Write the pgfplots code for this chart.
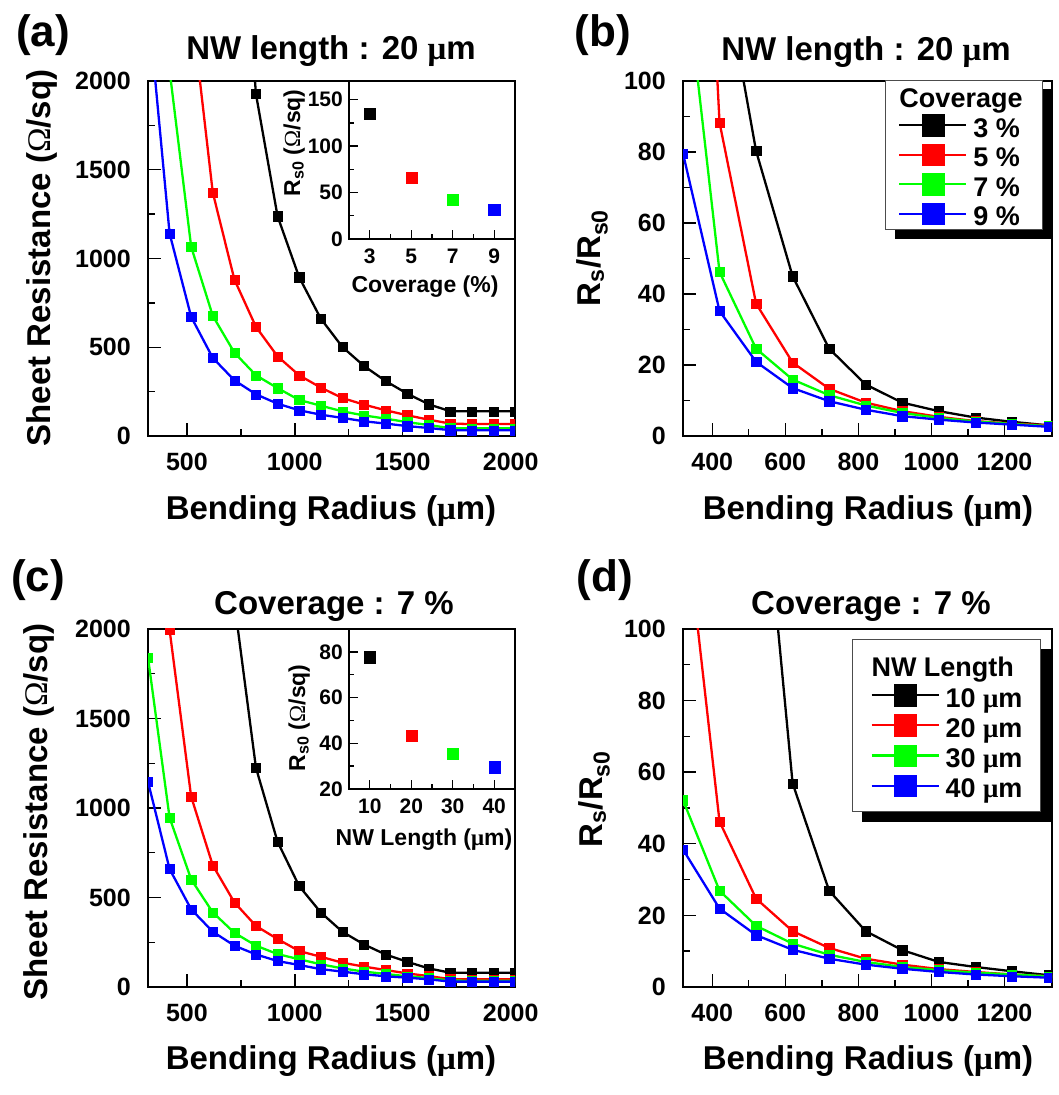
\documentclass[border=0pt]{standalone}
\usepackage{pgfplots}
\pgfplotsset{compat=1.18}
\pgfdeclarelayer{background}
\pgfsetlayers{background,main}
\usepackage{fontspec}
\setmainfont{Liberation Sans}
\newfontfamily\omgfont{Liberation Serif}
\newcommand{\Om}{{\omgfont\mdseries Ω}}
\newcommand{\mum}{{\omgfont μ}m}
\newcommand{\tickfont}{\fontsize{25}{30}\selectfont\bfseries}
\newcommand{\insfont}{\fontsize{21}{25}\selectfont\bfseries}
\newcommand{\bigfont}{\fontsize{33}{40}\selectfont\bfseries}
\newcommand{\panelfont}{\fontsize{44}{52}\selectfont\bfseries}
\newcommand{\inslabfont}{\fontsize{23}{28}\selectfont\bfseries}
\newcommand{\legfont}{\fontsize{27}{32}\selectfont\bfseries}
\newcommand{\lst}{\rule[-6pt]{0pt}{31.4pt}}

\pgfplotsset{
  mainax/.style={
    scale only axis, anchor=south west,
    axis line style={line width=1.4pt},
    tick align=inside, xtick pos=left, ytick pos=left,
    major tick length=13pt, minor tick length=6.5pt,
    every tick/.style={black, line width=1.4pt},
    clip marker paths=true,
    tick label style={font=\tickfont},
    xticklabel style={inner sep=0pt, yshift=-17pt},
    yticklabel style={inner sep=0pt, xshift=-17pt},
    /pgf/number format/assume math mode=true,
    /pgf/number format/1000 sep={},
    minor x tick num=1, minor y tick num=1,
  },
  insetax/.style={
    scale only axis, anchor=south west,
    axis background/.style={fill=white},
    axis line style={line width=1.4pt},
    tick align=inside, xtick pos=left, ytick pos=left,
    major tick length=9pt, minor tick length=5pt,
    every tick/.style={black, line width=1.4pt},
    tick label style={font=\insfont},
    xticklabel style={inner sep=0pt, yshift=-10pt},
    yticklabel style={inner sep=0pt, xshift=-6pt},
    /pgf/number format/assume math mode=true,
    minor x tick num=1, minor y tick num=1,
  },
  sk/.style={black, line width=2.3pt, mark=square*, mark size=4.6pt, mark options={line width=0.3pt}},
  sr/.style={red, line width=2.3pt, mark=square*, mark size=4.6pt, mark options={line width=0.3pt}},
  sg/.style={green, line width=2.3pt, mark=square*, mark size=4.6pt, mark options={line width=0.3pt}},
  sb/.style={blue, line width=2.3pt, mark=square*, mark size=4.6pt, mark options={line width=0.3pt}},
  ik/.style={black, only marks, mark=square*, mark size=5.6pt, mark options={line width=0.3pt}},
  ir/.style={red, only marks, mark=square*, mark size=5.6pt, mark options={line width=0.3pt}},
  ig/.style={green, only marks, mark=square*, mark size=5.6pt, mark options={line width=0.3pt}},
  ib/.style={blue, only marks, mark=square*, mark size=5.6pt, mark options={line width=0.3pt}},
  legax/.style={
    legend image code/.code={%
      \draw[##1, mark=none, fill=none, line width=2.2pt] (0pt,0pt) -- (67pt,0pt);
      \draw[##1, only marks, mark size=10.8pt] plot coordinates {(33.5pt,0pt)};
      \path[draw=none, fill=none] (0pt,-13pt) rectangle (74pt,13pt);},
  },
}

\begin{document}
\begin{tikzpicture}[x=1pt,y=1pt]
\useasboundingbox (0pt,0pt) rectangle (1058pt,1095pt);

% ---------------- (a) ----------------
\begin{axis}[mainax, at={(148pt,659pt)}, width=367pt, height=355pt,
  xmin=320, xmax=2020, ymin=0, ymax=2000,
  xtick={500,1000,1500,2000}, ytick={0,500,1000,1500,2000}]
\addplot[sk] coordinates {(720,3600)(820,1927)(920,1239)(1020,895)(1120,662)(1220,502)(1320,395)(1420,310)(1520,239)(1620,179)(1720,139)(1820,139)(1920,139)(2020,139)};
\addplot[sr] coordinates {(520,2430)(620,1372)(720,882)(820,615)(920,449)(1020,342)(1120,273)(1220,214)(1320,177)(1420,145)(1520,117)(1620,92)(1720,70)(1820,67)(1920,67)(2020,67)};
\addplot[sg] coordinates {(320,3500)(420,2060)(520,1066)(620,677)(720,470)(820,342)(920,270)(1020,203)(1120,171)(1220,139)(1320,116)(1420,98)(1520,78)(1620,62)(1720,44)(1820,43)(1920,43)(2020,43)};
\addplot[sb] coordinates {(320,2440)(420,1141)(520,671)(620,440)(720,314)(820,235)(920,182)(1020,145)(1120,120)(1220,102)(1320,83)(1420,70)(1520,56)(1620,45)(1720,33)(1820,32)(1920,32)(2020,32)};
\end{axis}
\begin{axis}[insetax, at={(349pt,856pt)}, width=166pt, height=158pt,
  xmin=2, xmax=10, ymin=0, ymax=170,
  xtick={3,5,7,9}, ytick={0,50,100,150}]
\addplot[ik] coordinates {(3,135)};
\addplot[ir] coordinates {(5,66)};
\addplot[ig] coordinates {(7,42)};
\addplot[ib] coordinates {(9,31.5)};
\end{axis}

% ---------------- (b) ----------------
\begin{axis}[mainax, legax, at={(683pt,659pt)}, width=369pt, height=355pt,
  xmin=320, xmax=1330, ymin=0, ymax=100,
  xtick={400,600,800,1000,1200}, ytick={0,20,40,60,80,100},
  legend style={name=legb, at={(rel axis cs:0.5474,1.003)}, anchor=north west, draw=black!70, line width=0.8pt, fill=white,
    font=\legfont, inner xsep=13pt, inner ysep=2pt, row sep=2.6pt, column sep=0pt,
    nodes={inner sep=0pt}, cells={anchor=west}}]
\addlegendimage{empty legend}
\addlegendentry{\lst\hspace*{-74pt}Coverage\hspace*{7pt}}
\addplot[sk] coordinates {(420,138)(520,80.3)(620,45.0)(720,24.6)(820,14.5)(920,9.4)(1020,7.0)(1120,5.2)(1220,4.0)(1320,3.0)(1420,2.5)};
\addlegendentry{\lst 3 \%}
\addplot[sr] coordinates {(320,290)(420,88.3)(520,37.3)(620,20.7)(720,13.3)(820,9.4)(920,7.0)(1020,5.4)(1120,4.2)(1220,3.5)(1320,3.0)(1420,2.6)};
\addlegendentry{\lst 5 \%}
\addplot[sg] coordinates {(320,137)(420,46.2)(520,24.6)(620,15.9)(720,11.5)(820,8.6)(920,6.5)(1020,5.1)(1120,4.1)(1220,3.4)(1320,2.8)(1420,2.4)};
\addlegendentry{\lst 7 \%}
\addplot[sb] coordinates {(320,79.6)(420,35.2)(520,20.9)(620,13.5)(720,9.8)(820,7.4)(920,5.6)(1020,4.6)(1120,3.8)(1220,3.2)(1320,2.6)(1420,2.2)};
\addlegendentry{\lst 9 \%}
\end{axis}

% ---------------- (c) ----------------
\begin{axis}[mainax, at={(148pt,108pt)}, width=367pt, height=358pt,
  xmin=320, xmax=2020, ymin=0, ymax=2000,
  xtick={500,1000,1500,2000}, ytick={0,500,1000,1500,2000}]
\addplot[sk] coordinates {(720,2150)(820,1225)(920,812)(1020,564)(1120,417)(1220,309)(1320,238)(1420,182)(1520,141)(1620,104)(1720,80)(1820,80)(1920,80)(2020,80)};
\addplot[sr] coordinates {(320,3500)(420,1995)(520,1063)(620,680)(720,473)(820,341)(920,268)(1020,201)(1120,169)(1220,136)(1320,114)(1420,95)(1520,76)(1620,61)(1720,44)(1820,43)(1920,43)(2020,43)};
\addplot[sg] coordinates {(320,1841)(420,946)(520,601)(620,417)(720,303)(820,231)(920,184)(1020,155)(1120,127)(1220,104)(1320,86)(1420,73)(1520,60)(1620,50)(1720,36)(1820,35)(1920,35)(2020,35)};
\addplot[sb] coordinates {(320,1147)(420,659)(520,434)(620,309)(720,231)(820,182)(920,145)(1020,123)(1120,100)(1220,86)(1320,71)(1420,60)(1520,52)(1620,43)(1720,30)(1820,30)(1920,30)(2020,30)};
\end{axis}
\begin{axis}[insetax, at={(349pt,306pt)}, width=166pt, height=160pt,
  xmin=5, xmax=45, ymin=20, ymax=90,
  xtick={10,20,30,40}, ytick={20,40,60,80}]
\addplot[ik] coordinates {(10,77.7)};
\addplot[ir] coordinates {(20,43.3)};
\addplot[ig] coordinates {(30,35.4)};
\addplot[ib] coordinates {(40,29.6)};
\end{axis}

% ---------------- (d) ----------------
\begin{axis}[mainax, legax, at={(683pt,108pt)}, width=369pt, height=358pt,
  xmin=320, xmax=1330, ymin=0, ymax=100,
  xtick={400,600,800,1000,1200}, ytick={0,20,40,60,80,100},
  legend style={name=legd, at={(rel axis cs:0.458,0.972)}, anchor=north west, draw=black!70, line width=0.8pt, fill=white,
    font=\legfont, inner xsep=18pt, inner ysep=12pt, row sep=3.3pt, column sep=0pt,
    nodes={inner sep=0pt}, cells={anchor=west}}]
\addlegendimage{empty legend}
\addlegendentry{\lst\hspace*{-74pt}NW Length}
\addplot[sk] coordinates {(520,165)(620,56.9)(720,26.9)(820,15.6)(920,10.3)(1020,7.0)(1120,5.6)(1220,4.4)(1320,3.3)(1420,2.8)};
\addlegendentry{\lst 10 \mum}
\addplot[sr] coordinates {(320,137)(420,46.2)(520,24.7)(620,15.6)(720,10.9)(820,7.9)(920,6.25)(1020,5.0)(1120,4.2)(1220,3.5)(1320,3.0)(1420,2.6)};
\addlegendentry{\lst 20 \mum}
\addplot[sg] coordinates {(320,52.2)(420,26.9)(520,17.1)(620,12.1)(720,9.0)(820,7.0)(920,5.6)(1020,4.7)(1120,4.0)(1220,3.5)(1320,3.0)(1420,2.6)};
\addlegendentry{\lst 30 \mum}
\addplot[sb] coordinates {(320,38.4)(420,21.9)(520,14.5)(620,10.4)(720,7.9)(820,6.25)(920,5.1)(1020,4.2)(1120,3.5)(1220,3.0)(1320,2.6)(1420,2.3)};
\addlegendentry{\lst 40 \mum}
\end{axis}

% legend shadows (behind the legend boxes)
\begin{pgfonlayer}{background}
\fill[black] ([shift={(10pt,-9pt)}]legb.south west) rectangle ([shift={(10pt,-9pt)}]legb.north east);
\fill[black] ([shift={(10pt,-10pt)}]legd.south west) rectangle ([shift={(10pt,-10pt)}]legd.north east);
\end{pgfonlayer}

% ---------------- texts ----------------
\node[font=\panelfont, anchor=base] at (43pt,1048pt) {(a)};
\node[font=\panelfont, anchor=base] at (603pt,1048pt) {(b)};
\node[font=\panelfont, anchor=base] at (38pt,503pt) {(c)};
\node[font=\panelfont, anchor=base] at (605pt,503pt) {(d)};

\node[font=\bigfont, anchor=base] at (331pt,1035pt) {NW length : 20 \mum};
\node[font=\bigfont, anchor=base] at (866pt,1034pt) {NW length : 20 \mum};
\node[font=\bigfont, anchor=base] at (334pt,480pt) {Coverage : 7 \%};
\node[font=\bigfont, anchor=base] at (871pt,480pt) {Coverage : 7 \%};

\node[font=\bigfont, anchor=base] at (331pt,575pt) {Bending Radius (\mum)};
\node[font=\bigfont, anchor=base] at (868pt,575pt) {Bending Radius (\mum)};
\node[font=\bigfont, anchor=base] at (331pt,25pt) {Bending Radius (\mum)};
\node[font=\bigfont, anchor=base] at (868pt,25pt) {Bending Radius (\mum)};

\node[font=\bigfont, anchor=base, rotate=90] at (50pt,837pt) {Sheet Resistance (\Om/sq)};
\node[font=\bigfont, anchor=base, rotate=90] at (47pt,283pt) {Sheet Resistance (\Om/sq)};
\node[font=\bigfont, anchor=base, rotate=90] at (600pt,837pt) {R\textsubscript{s}/R\textsubscript{s0}};
\node[font=\bigfont, anchor=base, rotate=90] at (602pt,296pt) {R\textsubscript{s}/R\textsubscript{s0}};

\node[font=\inslabfont, anchor=base, rotate=90] at (300pt,952pt) {R\textsubscript{s0} (\Om/sq)};
\node[font=\inslabfont, anchor=base] at (425pt,802pt) {Coverage (\%)};
\node[font=\inslabfont, anchor=base, rotate=90] at (305pt,377pt) {R\textsubscript{s0} (\Om/sq)};
\node[font=\inslabfont, anchor=base] at (424pt,249pt) {NW Length (\mum)};
\end{tikzpicture}
\end{document}
